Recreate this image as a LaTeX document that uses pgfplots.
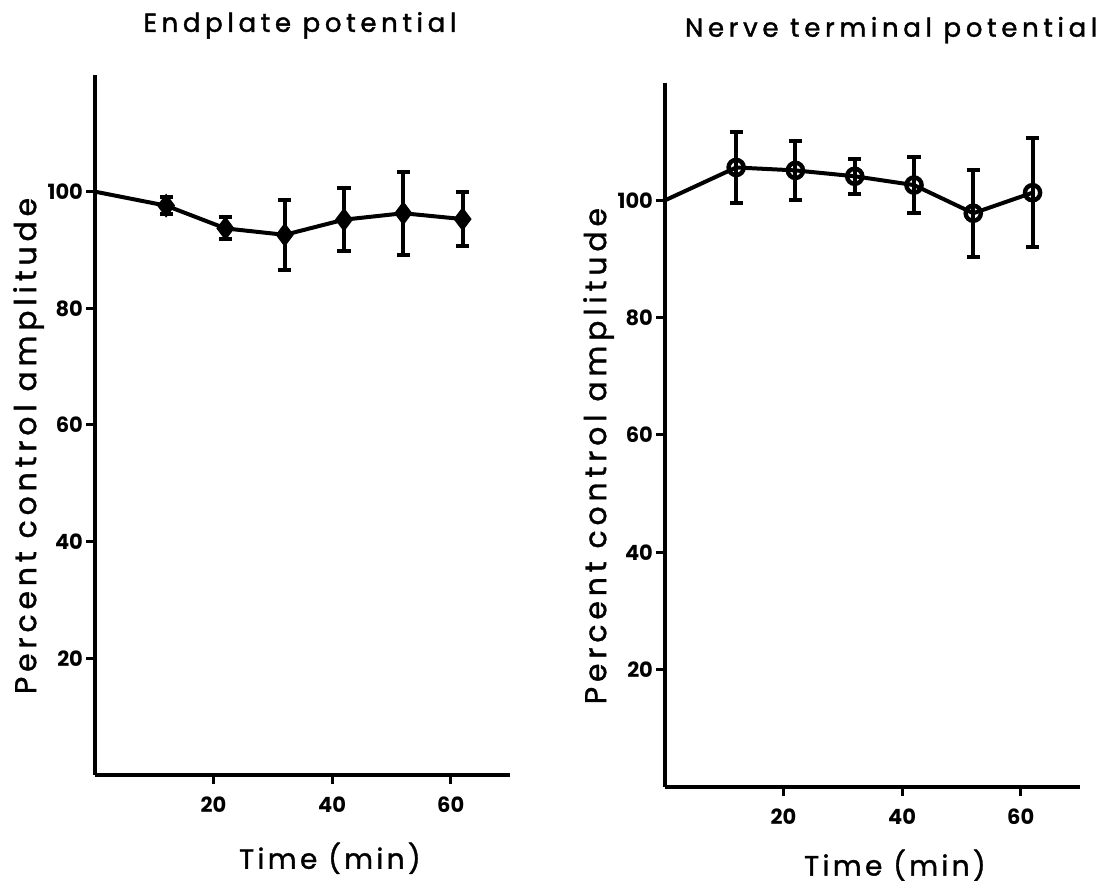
\documentclass[border=0pt]{standalone}
\usepackage{fontspec}
\setmainfont{Poppins}
\newfontfamily\spaced[LetterSpace=18, FakeBold=1.5]{Poppins}
\newfontfamily\labelfont[LetterSpace=12, FakeBold=1.2]{Poppins}
\newfontfamily\ylabelfont[LetterSpace=16, FakeBold=1.2]{Poppins}
\usepackage{pgfplots}
\pgfplotsset{compat=1.18}

% mean, s.e. for each time point (min)
\pgfplotstableread{
t   y      e
0   100    0
12  97.6   1.5
22  93.7   1.9
32  92.6   6.0
42  95.2   5.4
52  96.3   7.1
62  95.3   4.7
}\epp
\pgfplotstableread{
t   y      e
0   100    0
12  105.6  6.0
22  105.1  5.0
32  104.1  3.0
42  102.6  4.8
52  97.8   7.4
62  101.3  9.3
}\ntp

\pgfplotsset{
  panel/.style={
    scale only axis,
    width=207.5pt,
    anchor=south west,
    xmin=0, xmax=70, ymin=0, ymax=120,
    axis x line*=bottom, axis y line*=left,
    axis line style={-, line width=1.8pt},
    xtick={20,40,60}, ytick={20,40,60,80,100},
    tick align=outside,
    major tick length=4.5pt,
    tick style={line width=1.5pt, black},
    tick label style={font=\bfseries\fontsize{10.5}{12}\selectfont},
    /pgf/number format/assume math mode=true,
    xticklabel style={yshift=-3pt},
    yticklabel style={xshift=2pt},
    xlabel style={font=\labelfont\fontsize{14}{16}\selectfont},
    ylabel style={font=\ylabelfont\fontsize{15}{17}\selectfont},
    ylabel={Percent control amplitude},
    xlabel={Time (min)},
    clip=false,
  },
  errs/.style={
    only marks,
    /pgfplots/error bars/y dir=both,
    /pgfplots/error bars/y explicit,
    /pgfplots/error bars/error bar style={line width=2pt},
    /pgfplots/error bars/error mark options={rotate=90, mark size=3.3pt, line width=2pt},
  },
}

\begin{document}
\begin{tikzpicture}
\useasboundingbox (0,0) rectangle (557.5pt,444pt);

% Endplate potential
\begin{axis}[panel,
  at={(47.5pt,56.5pt)}, height=350pt,
  title={\spaced\fontsize{13}{15}\selectfont Endplate potential},
  title style={at={(axis description cs:0.494,1.071)}, anchor=center, yshift=-6pt},
  xlabel style={at={(axis description cs:0.566,-0.119)}, anchor=center},
  ylabel style={at={(axis description cs:-0.160,0.47)}, anchor=center},
]
\addplot[black, line width=2pt] table[x=t, y=y] {\epp};
\addplot[black, mark=diamond*, mark size=5.2pt,
  mark options={fill=black, line width=1pt}, skip coords between index={0}{1}, errs]
  table[x=t, y=y, y error=e] {\epp};
\end{axis}

% Nerve terminal potential
\begin{axis}[panel,
  at={(332.5pt,50.5pt)}, height=352pt,
  title={\spaced\fontsize{13}{15}\selectfont Nerve terminal potential},
  title style={at={(axis description cs:0.545,1.075)}, anchor=center, yshift=-6pt},
  xlabel style={at={(axis description cs:0.554,-0.111)}, anchor=center},
  ylabel style={at={(axis description cs:-0.160,0.47)}, anchor=center},
]
\addplot[black, line width=2pt] table[x=t, y=y] {\ntp};
\addplot[black, mark=o, mark size=3.8pt,
  mark options={fill=white, line width=2.2pt}, skip coords between index={0}{1}, errs]
  table[x=t, y=y, y error=e] {\ntp};
\end{axis}
\end{tikzpicture}
\end{document}
